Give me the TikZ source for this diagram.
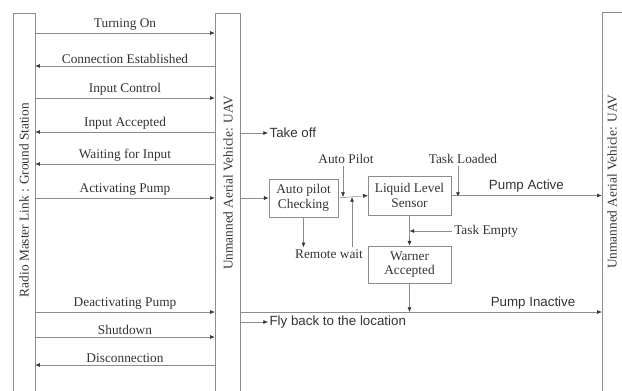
\documentclass[tikz,border=0pt]{standalone}
\usepackage{fontspec}
\setmainfont{Liberation Serif}
\newfontfamily\sansfont{Liberation Sans}
\usetikzlibrary{arrows.meta,fit}
\tikzset{
    bar/.style={draw=black!45, inner sep=0pt},
    arr/.style={draw=black!45, -{Latex[length=3.5pt,width=3pt,color=black!80]}},
    msgtxt/.style={text=black!80, font=\fontsize{10}{12}\selectfont, inner sep=1.5pt},
    sanstxt/.style={text=black!80, font=\sansfont\fontsize{10}{12}\selectfont, inner sep=1pt},
    box/.style={draw=black!45, text=black!80, align=center, inner sep=0pt,
        font=\fontsize{10}{11}\selectfont}
}
\begin{document}
\begin{tikzpicture}[x=0.75pt, y=-0.75pt]
    \useasboundingbox (0,0) rectangle (622,390);
    % Lifelines
    \node[bar, fit={(13,13) (35,395)}] (gs) {};
    \node[bar, fit={(215,13) (240,395)}] (uav) {};
    \node[bar, fit={(602,12) (624,395)}] (ruav) {};
    \node[msgtxt, rotate=90] at (24,200) {Radio Master Link : Ground Station};
    \node[msgtxt, rotate=90] at (228,183) {Unmanned Aerial Vehicle: UAV};
    \node[msgtxt, rotate=90] at (612,182) {Unmanned Aerial Vehicle: UAV};
    % Messages between ground station and UAV
    \draw[arr] (gs.east |- 0,33) -- (uav.west |- 0,33) node[msgtxt, midway, above] {Turning On};
    \draw[arr] (uav.west |- 0,66) -- (gs.east |- 0,66) node[msgtxt, midway, above] {Connection Established};
    \draw[arr] (gs.east |- 0,98) -- (uav.west |- 0,98) node[msgtxt, midway, above] {Input Control};
    \draw[arr] (uav.west |- 0,132) -- (gs.east |- 0,132) node[msgtxt, midway, above] {Input Accepted};
    \draw[arr] (uav.west |- 0,164) -- (gs.east |- 0,164) node[msgtxt, midway, above] {Waiting for Input};
    \draw[arr] (gs.east |- 0,198) -- (uav.west |- 0,198) node[msgtxt, midway, above] {Activating Pump};
    \draw[arr] (gs.east |- 0,312) -- (uav.west |- 0,312) node[msgtxt, midway, above] {Deactivating Pump};
    \draw[arr] (gs.east |- 0,337) -- (uav.west |- 0,337) node[msgtxt, midway, above] {Shutdown};
    \draw[arr] (uav.west |- 0,365) -- (gs.east |- 0,365) node[msgtxt, midway, above] {Disconnection};
    % UAV side
    \node[sanstxt, anchor=west] (takeoff) at (268,133) {Take off};
    \draw[arr] (uav.east |- takeoff) -- (takeoff.west);
    \node[box, minimum width=52pt, minimum height=28.5pt] (apc) at (303.5,198) {Auto pilot\\Checking};
    \node[box, minimum width=62pt, minimum height=29pt] (lls) at (409.5,195.5) {Liquid Level\\Sensor};
    \node[box, minimum width=62pt, minimum height=28pt] (wa) at (409.5,264.5) {Warner\\Accepted};
    \draw[arr] (uav.east |- apc.west) -- (apc.west);
    \draw[arr] (apc.east) -- (lls.west);
    \coordinate (j1) at (343,197);
    \coordinate (j2) at (352,197);
    \node[msgtxt] (ap) at (346,159) {Auto Pilot};
    \node[msgtxt] (rw) at (329,254) {Remote wait};
    \draw[arr] (ap.south -| j1) -- (j1);
    \draw[arr] (apc.south) -- (apc.south |- rw.north);
    \draw[arr] (rw.north -| j2) -- (j2);
    \node[msgtxt] (tl) at (463,159) {Task Loaded};
    \coordinate (j3) at (458,197);
    \draw[arr] (tl.south -| j3) -- (j3);
    \draw[arr] (lls.east) -- (lls.east -| ruav.west) node[sanstxt, midway, above=1pt] {Pump Active};
    \draw[arr] (lls.south) -- (wa.north);
    \node[msgtxt, anchor=west] (te) at (452,231) {Task Empty};
    \draw[arr] (te.west) -- (te.west -| lls.south);
    \coordinate (j4) at (409.5,312);
    \draw[arr] (wa.south) -- (j4);
    \draw[arr] (uav.east |- j4) -- (ruav.west |- j4) node[sanstxt, pos=0.81, above=1pt] {Pump Inactive};
    \node[sanstxt, anchor=west] (fly) at (268,322) {Fly back to the location};
    \draw[arr] (uav.east |- fly) -- (fly.west);
\end{tikzpicture}
\end{document}
